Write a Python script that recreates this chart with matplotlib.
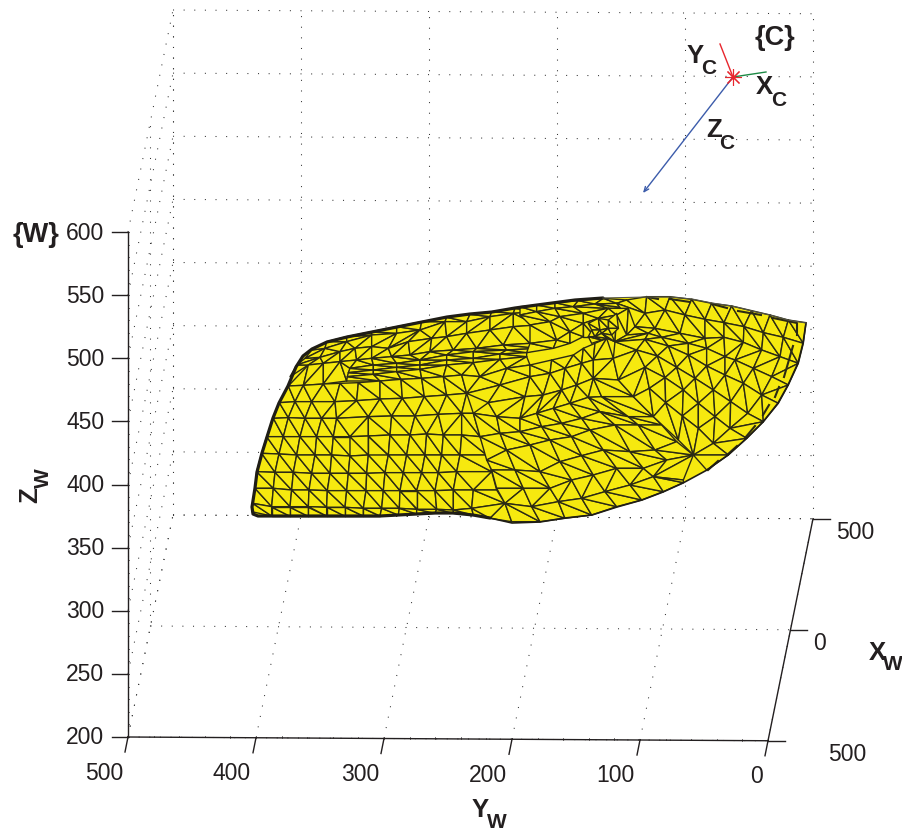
"""Calibration figure: yellow triangulated surface in the world frame {W},
with the camera frame {C} above it. Mesh traced off the picture."""
import matplotlib
matplotlib.use("Agg")
import matplotlib.pyplot as plt
import numpy as np
from matplotlib.collections import PolyCollection

plt.rcParams["font.family"] = ["Liberation Sans", "DejaVu Sans"]

z_ticks = [200, 250, 300, 350, 400, 450, 500, 550, 600]
y_ticks = [500, 400, 300, 200, 100, 0]
x_ticks = [-500, 0, 500]
x_tick_labels = ["500", "0", "500"]

left_rows = [
    [(195, 235), (255, 205), (320, 185), (395, 165), (470, 160), (540, 150), (615, 125), (680, 125), (750, 110), (820, 100), (890, 95)],
    [(170, 255), (240, 232), (300, 215), (345, 205), (395, 200), (445, 205), (505, 185), (575, 175), (620, 170), (680, 160), (750, 150), (820, 140), (890, 135)],
    [(150, 290), (205, 255), (250, 250), (300, 245), (350, 240), (395, 235), (455, 230), (510, 225), (570, 215), (640, 210), (710, 205), (790, 195), (870, 190)],
]
border_top = [(215, 210), (260, 185), (320, 170), (395, 155), (470, 140), (545, 125), (620, 112), (690, 103), (755, 95), (825, 85), (890, 75)]
lip_rows = [
    [(330, 265), (400, 255), (470, 250), (540, 240), (620, 225), (700, 215), (800, 210), (900, 205)],
    [(325, 278), (400, 270), (470, 262), (540, 255), (620, 240), (700, 235), (780, 222), (860, 218)],
    [(322, 290), (400, 283), (470, 275), (540, 268), (620, 255), (700, 248), (780, 238), (860, 230)],
    [(320, 303), (420, 303), (483, 298), (545, 295), (610, 290), (665, 285), (720, 290), (800, 265), (870, 255)],
]
flat_rows = [
    [(145, 318), (190, 316), (250, 312), (300, 310), (355, 308), (420, 303), (483, 298), (545, 295), (610, 290), (665, 285)],
    [(118, 368), (165, 365), (215, 365), (285, 365), (350, 362), (420, 357), (487, 355), (553, 350), (620, 345), (680, 340)],
    [(100, 415), (145, 413), (195, 415), (245, 415), (290, 415), (385, 410), (455, 408), (525, 408), (595, 403), (665, 400), (700, 400)],
    [(80, 470), (130, 470), (180, 470), (230, 470), (280, 470), (330, 470), (385, 468), (450, 465), (510, 465), (560, 462), (610, 465), (665, 465), (720, 470)],
    [(65, 520), (117, 522), (170, 525), (225, 525), (275, 525), (330, 528), (385, 525), (445, 525), (500, 525), (555, 525), (605, 525), (660, 525), (740, 525)],
    [(50, 575), (105, 577), (160, 577), (215, 580), (270, 580), (325, 580), (380, 580), (435, 578), (490, 578), (545, 578), (595, 578), (650, 575), (755, 575)],
    [(45, 625), (100, 625), (155, 630), (207, 630), (262, 632), (320, 632), (378, 632), (430, 632), (480, 632), (530, 632), (585, 632), (640, 630), (700, 630), (770, 630)],
    [(38, 670), (95, 680), (150, 680), (205, 680), (260, 682), (315, 682), (370, 685), (425, 685), (478, 685), (530, 688), (590, 688), (640, 690), (695, 685), (795, 670)],
    [(35, 695), (95, 708), (150, 708), (205, 708), (260, 708), (315, 708), (370, 708), (420, 708), (475, 705), (530, 702), (585, 700), (640, 700), (700, 705), (750, 715), (815, 725)],
]

# right crop frame from here on
upper_rows = [
    [(0, 80), (50, 75), (105, 68), (175, 62), (250, 55), (320, 60), (380, 50)],
    [(0, 105), (50, 95), (105, 85), (160, 80), (225, 72), (290, 70), (375, 100)],
    [(30, 135), (90, 125), (120, 110), (190, 100), (265, 85), (325, 85), (345, 140)],
    [(30, 190), (110, 180), (150, 155), (190, 130), (235, 115), (290, 105), (320, 165)],
    [(20, 218), (100, 205), (150, 190), (190, 170), (225, 170), (260, 175), (285, 185)],
]
crumple_rows = [
    [(205, 130), (235, 115), (265, 120), (290, 100)],
    [(215, 150), (240, 150), (265, 145), (295, 145)],
    [(205, 170), (225, 170), (245, 160), (275, 165)],
    [(215, 190), (245, 180), (262, 175), (285, 185)],
]
mid_rows = [
    [(-175, 285), (-120, 290), (-40, 265), (30, 255), (95, 240), (160, 225), (190, 205), (225, 190), (260, 175)],
    [(-160, 340), (-60, 315), (30, 290), (90, 280), (135, 265), (185, 250), (220, 240), (280, 235)],
    [(-95, 368), (15, 350), (70, 345), (125, 330), (170, 315), (220, 295), (295, 300)],
    [(-140, 400), (-70, 410), (0, 415), (50, 400), (100, 385), (150, 370), (205, 352), (245, 350), (340, 350)],
    [(-120, 470), (-60, 460), (0, 455), (65, 440), (125, 430), (185, 415), (240, 395), (325, 410), (400, 410)],
    [(-100, 540), (-40, 510), (30, 495), (90, 480), (155, 470), (210, 450), (285, 435), (355, 435), (425, 435)],
    [(-85, 570), (-15, 570), (60, 575), (120, 545), (185, 527), (250, 510), (330, 515), (405, 510), (470, 485)],
    [(-70, 625), (10, 625), (90, 625), (155, 600), (220, 585), (290, 565), (370, 565), (440, 540), (520, 525)],
    [(-45, 670), (35, 680), (115, 665), (185, 655), (255, 635), (330, 615), (400, 590), (490, 600)],
    [(-25, 725), (60, 725), (135, 715), (215, 705), (290, 680), (365, 660), (430, 635), (490, 608)],
]
fan_rows = [
    [(380, 50), (450, 50), (515, 58), (575, 70), (635, 78), (695, 92), (750, 105), (805, 120), (858, 128)],
    [(375, 100), (435, 90), (495, 105), (555, 118), (612, 128), (672, 140), (730, 158), (790, 172), (850, 190)],
    [(345, 140), (405, 145), (480, 160), (555, 175), (612, 172), (670, 187), (725, 210), (780, 230), (835, 250)],
    [(320, 165), (385, 160), (425, 172), (505, 190), (560, 205), (615, 230), (645, 240), (700, 265), (755, 290), (805, 315)],
    [(285, 185), (375, 178), (445, 198), (505, 225), (560, 258), (615, 285), (670, 310), (725, 345), (775, 370)],
    [(280, 235), (350, 210), (412, 228), (470, 262), (525, 295), (580, 330), (632, 365), (683, 400), (730, 425)],
    [(295, 300), (375, 262), (435, 293), (490, 330), (535, 370), (585, 410), (630, 445), (680, 475)],
    [(340, 350), (388, 325), (437, 368), (487, 408), (535, 445), (580, 490), (625, 525)],
    [(400, 410), (475, 480), (520, 525), (560, 570)],
]

# surface outline in picture pixels
outline_heavy = [(603, 298), (575, 300), (537, 305), (515, 308), (492, 312), (470, 314), (447, 317), (422, 322), (397, 327),
                 (372, 332), (347, 337), (327, 342), (312, 349), (303, 356), (296, 367), (288, 386), (279, 403), (273, 418),
                 (267, 437), (262, 453), (257, 472), (255, 488), (252, 507), (253, 514), (258, 516), (273, 516), (380, 516),
                 (435, 513), (453, 513), (473, 515), (490, 518)]
outline_light = [(490, 518), (512, 523), (540, 522), (565, 518), (592, 515), (617, 507), (642, 500), (663, 492), (683, 483),
                 (707, 470), (728, 455), (747, 438), (763, 422), (778, 403), (788, 385), (798, 363), (803, 343), (806, 323)]
outline_top = [(806, 323), (788, 320), (770, 315), (752, 311), (732, 306), (712, 303), (692, 299), (670, 297), (647, 297), (603, 298)]

# broken dark edge just inside the right rim
rim_dashes = [
    [(647, 297), (658, 299)], [(670, 299), (690, 302)], [(712, 304), (727, 308)], [(738, 311), (761, 315)],
    [(773, 318), (797, 323), (797, 335)], [(793, 346), (784, 377)], [(779, 387), (775, 397)], [(769, 405), (763, 415)],
    [(755, 426), (745, 438)], [(737, 446), (727, 455)], [(718, 461), (708, 470)],
]

# camera frame in picture pixels
cam_origin = (733, 77)
cam_x_end = (766, 72)
cam_y_end = (720, 44)
cam_z_end = (643, 193)


def project(x, y, z):
    sx = 128 + (500 - np.asarray(y)) * 1.28 + (np.asarray(x) + 500) * 0.045
    sy = 737 + (500 - np.asarray(y)) * 0.0075 - (np.asarray(x) + 500) * 0.222 - (np.asarray(z) - 200) * 1.2625
    return sx, sy


def to_px(row, x0):
    pts = np.array(row, dtype=float)
    return np.column_stack([x0 + pts[:, 0] / 3, 280 + pts[:, 1] / 3])


def strip(a, b):
    """triangles between two neighbouring rows"""
    tris = []
    i = j = 0
    flip = False
    while i < len(a) - 1 or j < len(b) - 1:
        ta = (i + 1) / max(len(a) - 1, 1)
        tb = (j + 1) / max(len(b) - 1, 1)
        if j >= len(b) - 1 or (i < len(a) - 1 and (ta < tb or (ta == tb and flip))):
            tris.append([a[i], a[i + 1], b[j]])
            i += 1
        else:
            tris.append([a[i], b[j], b[j + 1]])
            j += 1
        flip = not flip
    return tris


def grid3d(ax, xs, ys, zs):
    ax.plot(*project(xs, ys, zs), color="#333333", lw=0.75, ls=(0, (1, 9.2)), zorder=1)


def sub(ax, big, small, big_xy, small_xy, big_size=18.5, small_size=15, rot=0):
    ax.text(*big_xy, big, fontsize=big_size, fontweight="bold", ha="center", va="center", rotation=rot, color="#231f20")
    ax.text(*small_xy, small, fontsize=small_size, fontweight="bold", ha="center", va="center", rotation=rot, color="#231f20")


fig = plt.figure(figsize=(9.03, 8.33), dpi=100)
ax = fig.add_axes([0, 0, 1, 1])
ax.set_xlim(0, 903)
ax.set_ylim(833, 0)
ax.axis("off")

# dotted box
for z in z_ticks:
    grid3d(ax, [500, 500], [500, 0], [z, z])
    grid3d(ax, [-500, 500], [500, 500], [z, z])
for y in y_ticks:
    grid3d(ax, [500, 500], [y, y], [200, 600])
    grid3d(ax, [-500, 500], [y, y], [200, 200])
for x in x_ticks:
    grid3d(ax, [x, x], [500, 500], [200, 600])
    grid3d(ax, [x, x], [500, 0], [200, 200])

# axis lines and ticks
ax_col = "#231f20"
ax.plot(*project([-500, -500], [500, 500], [200, 600]), color=ax_col, lw=1.0, zorder=2)
ax.plot(*project([-500, -500], [500, 0], [200, 200]), color=ax_col, lw=1.0, zorder=2)
ax.plot(*project([-500, 500], [0, 0], [200, 200]), color=ax_col, lw=1.0, zorder=2)
for z in z_ticks:
    sx, sy = project(-500, 500, z)
    ax.plot([sx - 16, sx], [sy, sy], color=ax_col, lw=1.0, zorder=2)
    ax.text(sx - 23.5, sy + 1, str(z), fontsize=16.5, ha="right", va="center", color=ax_col)
for z in np.arange(200, 601, 10):
    sx, sy = project(-500, 500, z)
    ax.plot([sx, sx + 1.5], [sy, sy], color=ax_col, lw=0.5, zorder=2)
for y in y_ticks:
    sx, sy = project(-500, y, 200)
    ax.plot([sx, sx - 3], [sy, sy + 15], color=ax_col, lw=1.0, zorder=2)
    ax.text(sx - 5, sy + 36, str(y), fontsize=16.5, ha="right", va="center", color=ax_col)
for y in np.arange(0, 501, 20):
    sx, sy = project(-500, y, 200)
    ax.plot([sx, sx], [sy, sy - 1.5], color=ax_col, lw=0.5, zorder=2)
for x, lab, dx in zip(x_ticks, x_tick_labels, [60, 23, 23]):
    sx, sy = project(x, 0, 200)
    ax.plot([sx, sx + 17], [sy, sy], color=ax_col, lw=1.0, zorder=2)
    ax.text(sx + dx, sy + 13.5, lab, fontsize=16.5, ha="left", va="center", color=ax_col)

# surface
yellow = "#f6e90f"
edge = "#2b2a14"
outline = np.array(outline_heavy + outline_light[1:] + outline_top[1:])
ax.fill(outline[:, 0], outline[:, 1], color=yellow, lw=0, zorder=3)

tris = []
left = [to_px(border_top, 240)] + [to_px(r, 240) for r in left_rows]
for a, b in zip(left[:-1], left[1:]):
    tris += strip(a, b)
tris += strip(to_px([(205, 255), (250, 250), (300, 245), (330, 265)], 240), to_px([(145, 318), (190, 316), (250, 312), (320, 303)], 240))
tris += strip(to_px(left_rows[2][3:], 240), to_px(lip_rows[0], 240))
lips = [to_px(r, 240) for r in lip_rows]
for a, b in zip(lips[:-1], lips[1:]):
    tris += strip(a, b)
flat = [to_px(r, 240) for r in flat_rows]
for a, b in zip(flat[:-1], flat[1:]):
    tris += strip(a, b)
for rows, x0 in [(mid_rows, 520), (upper_rows, 520), (fan_rows, 520), (crumple_rows, 520)]:
    px_rows = [to_px(r, x0) for r in rows]
    for a, b in zip(px_rows[:-1], px_rows[1:]):
        tris += strip(a, b)
mesh = PolyCollection(tris, facecolors=yellow, edgecolors=edge, linewidths=1.0, zorder=4)
ax.add_collection(mesh)

for seg in rim_dashes:
    pts = np.array(seg)
    ax.plot(pts[:, 0], pts[:, 1], color=edge, lw=1.5, zorder=5)
pts = np.array(outline_heavy)
ax.plot(pts[:, 0], pts[:, 1], color="#1f1d16", lw=2.3, zorder=6, solid_capstyle="round")
pts = np.array(outline_light)
ax.plot(pts[:, 0], pts[:, 1], color="#1f1d16", lw=1.2, zorder=6)
pts = np.array(outline_top)
ax.plot(pts[:, 0], pts[:, 1], color="#555548", lw=0.8, zorder=6)

# camera frame
ax.plot([cam_origin[0], cam_x_end[0]], [cam_origin[1], cam_x_end[1]], color="#1d8a45", lw=1.0, zorder=7)
ax.plot([cam_origin[0], cam_y_end[0]], [cam_origin[1], cam_y_end[1]], color="#e8262d", lw=1.0, zorder=7)
ax.annotate("", xy=cam_z_end, xytext=cam_origin, zorder=7,
            arrowprops=dict(arrowstyle="->,head_length=0.35,head_width=0.15", color="#3c5cab", lw=1.0, shrinkA=0, shrinkB=0))
ax.plot(*cam_origin, marker=(8, 2, 0), ms=12, mew=0.8, color="#e8262d", zorder=8)

# frame and axis names
ax.text(775, 38, "{C}", fontsize=19.5, fontweight="bold", ha="center", va="center", color="#231f20")
ax.text(36, 235, "{W}", fontsize=19.5, fontweight="bold", ha="center", va="center", color="#231f20")
sub(ax, "Y", "C", (695, 56), (709, 68))
sub(ax, "X", "C", (764, 87), (779, 100))
sub(ax, "Z", "C", (714, 130), (727, 143))
sub(ax, "X", "W", (877, 653), (893, 665))
sub(ax, "Y", "W", (480, 810), (497, 822))
sub(ax, "Z", "W", (30, 495), (43, 478), rot=90)

fig.savefig("out.png", dpi=100)
plt.close(fig)
